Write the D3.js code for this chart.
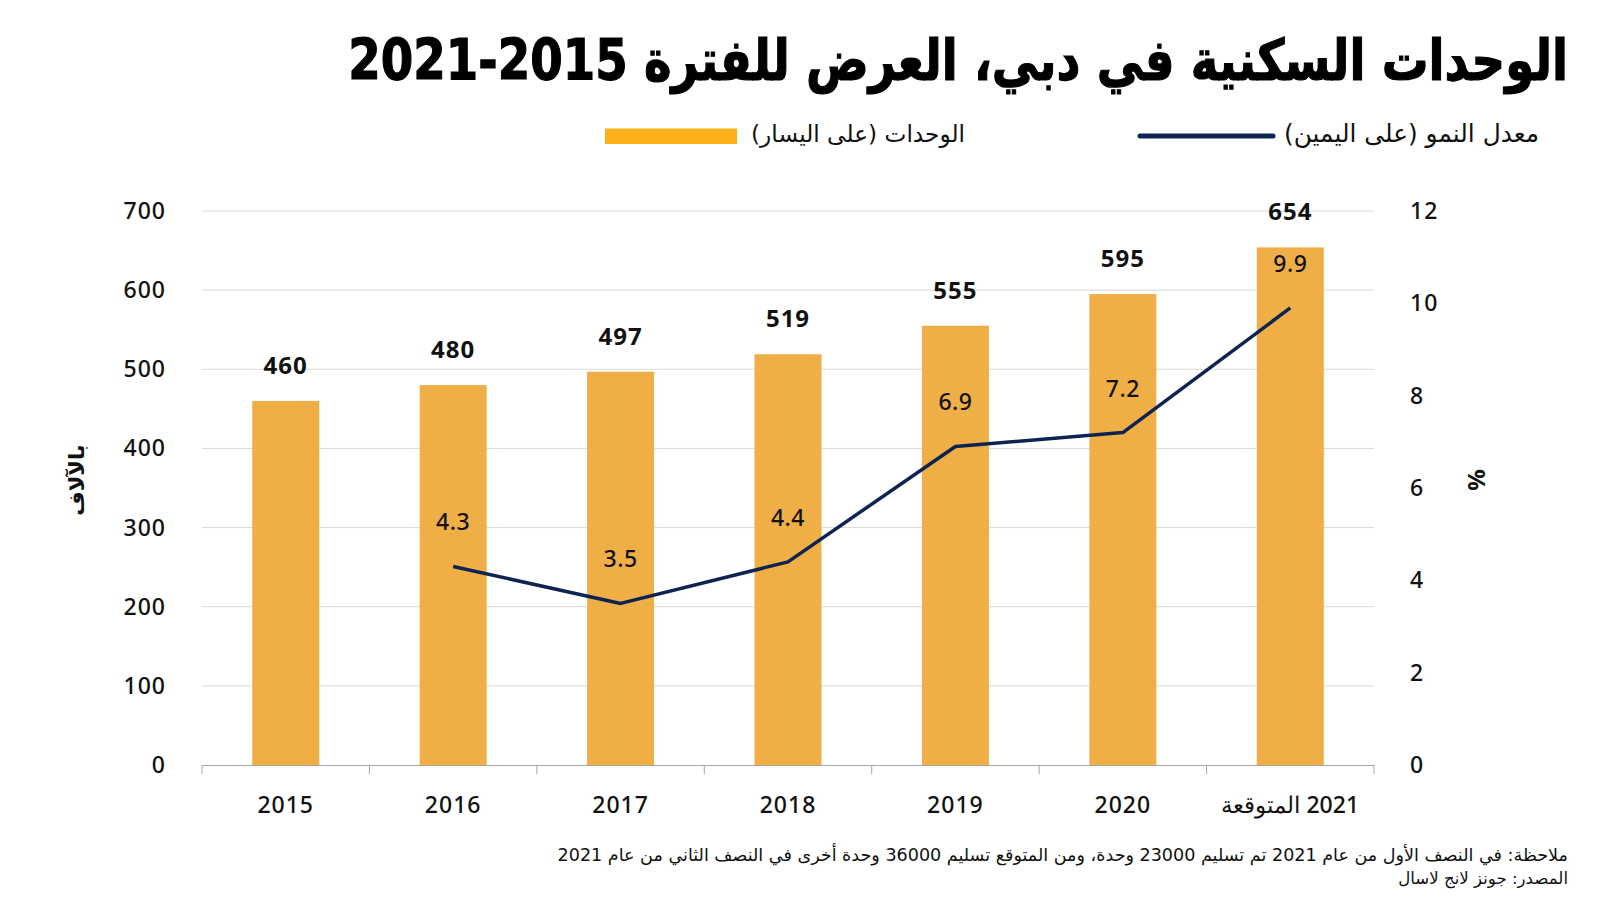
<!DOCTYPE html>
<html><head><meta charset="utf-8">
<script src="https://cdn.jsdelivr.net/npm/d3@7"></script>
<style>body{margin:0;background:#fff}svg{display:block}</style>
</head><body>
<svg id="c" width="1600" height="900"></svg>
<script>
const categories = ["2015","2016","2017","2018","2019","2020","2021 المتوقعة"];
const units = [460,480,497,519,555,595,654];
const growth = [null,4.3,3.5,4.4,6.9,7.2,9.9];
const leftTicks = [0,100,200,300,400,500,600,700];
const rightTicks = [0,2,4,6,8,10,12];
const titleText = "الوحدات السكنية في دبي، العرض للفترة 2015-2021";
const legendLine = "معدل النمو (على اليمين)";
const legendBar = "الوحدات (على اليسار)";
const leftTitle = "بالآلاف";
const rightTitle = "%";
const note1 = "ملاحظة: في النصف الأول من عام 2021 تم تسليم 23000 وحدة، ومن المتوقع تسليم 36000 وحدة أخرى في النصف الثاني من عام 2021";
const note2 = "المصدر: جونز لانج لاسال";

const svg = d3.select("#c");
const AR = "'DejaVu Sans', 'Noto Sans', sans-serif";
const NUM = "'Noto Sans', 'Open Sans', sans-serif";
const L = 202, R = 1374, T = 211, B = 765;

const x = d3.scaleBand().domain(categories).range([L,R]).paddingInner(0.6).paddingOuter(0.3);
const xb = d3.scaleBand().domain(categories).range([L,R]);
const yL = d3.scaleLinear().domain([0,700]).range([B,T]);
const yR = d3.scaleLinear().domain([0,12]).range([B,T]);

function fit(sel, w){
  const n = sel.node(); const fs = parseFloat(sel.attr("font-size"));
  const cur = n.getComputedTextLength();
  if (cur > 0) sel.attr("font-size", fs*w/cur);
}
function rtlText(xp, yp, txt, fs, weight){
  return svg.append("text").attr("x",xp).attr("y",yp).attr("text-anchor","start")
    .attr("direction","rtl").attr("font-family",AR).attr("font-weight",weight||"normal")
    .attr("font-size",fs).attr("fill","#111").text(txt);
}

// gridlines
svg.append("g").selectAll("line").data(leftTicks.slice(1)).join("line")
  .attr("x1",L).attr("x2",R).attr("y1",d=>yL(d)).attr("y2",d=>yL(d))
  .attr("stroke","#d9d9d9").attr("stroke-width",1);

// bars
svg.append("g").selectAll("rect").data(units).join("rect")
  .attr("x",(d,i)=>x(categories[i])).attr("width",x.bandwidth())
  .attr("y",d=>yL(d)).attr("height",d=>B-yL(d)).attr("fill","#F0AE46");

// x axis
const xa = svg.append("g").attr("transform",`translate(0,${B})`)
  .call(d3.axisBottom(xb).tickSize(0).tickFormat(""));
xa.select(".domain").attr("stroke","#a6a6a6");
const bounds = categories.map(c=>xb(c)).concat([R]);
svg.append("g").selectAll("line").data(bounds).join("line")
  .attr("x1",d=>d).attr("x2",d=>d).attr("y1",B).attr("y2",B+9).attr("stroke","#a6a6a6");
svg.append("g").selectAll("text").data(categories).join("text")
  .attr("x",d=>xb(d)+xb.bandwidth()/2).attr("y",813).attr("text-anchor","middle")
  .attr("font-family",NUM).attr("font-size",23).attr("font-weight",500).attr("fill","#111")
  .attr("letter-spacing",1).attr("direction","rtl")
  .text(d=>d);

// left ticks
svg.append("g").selectAll("text").data(leftTicks).join("text")
  .attr("x",166).attr("y",d=>yL(d)+8).attr("text-anchor","end")
  .attr("font-family",NUM).attr("font-size",23).attr("font-weight",500).attr("letter-spacing",1)
  .attr("fill","#111").text(d=>d);
// right ticks
svg.append("g").selectAll("text").data(rightTicks).join("text")
  .attr("x",1410).attr("y",d=>yR(d)+8).attr("text-anchor","start")
  .attr("font-family",NUM).attr("font-size",23).attr("font-weight",500).attr("letter-spacing",1)
  .attr("fill","#111").text(d=>d);

// axis titles
svg.append("text").attr("transform","translate(77,480) rotate(-90)").attr("text-anchor","middle")
  .attr("dominant-baseline","central").attr("font-family",AR).attr("font-weight","bold")
  .attr("font-size",21).attr("fill","#111").text(leftTitle);
svg.append("text").attr("transform","translate(1475,480) rotate(-90)").attr("text-anchor","middle")
  .attr("dominant-baseline","central").attr("font-family",NUM).attr("font-weight","bold")
  .attr("font-size",24).attr("fill","#111").text(rightTitle);

// bar labels
svg.append("g").selectAll("text").data(units).join("text")
  .attr("x",(d,i)=>xb(categories[i])+xb.bandwidth()/2).attr("y",d=>yL(d)-36+9)
  .attr("text-anchor","middle").attr("font-family",NUM).attr("font-weight","bold")
  .attr("font-size",24).attr("letter-spacing",1).attr("fill","#111").text(d=>d);

// line
const pts = growth.map((g,i)=>({g,c:categories[i]})).filter(d=>d.g!=null);
const line = d3.line().x(d=>xb(d.c)+xb.bandwidth()/2).y(d=>yR(d.g));
svg.append("path").datum(pts).attr("d",line).attr("fill","none")
  .attr("stroke","#0d2452").attr("stroke-width",3.5).attr("stroke-linejoin","round");
svg.append("g").selectAll("text").data(pts).join("text")
  .attr("x",d=>xb(d.c)+xb.bandwidth()/2).attr("y",d=>yR(d.g)-44+8)
  .attr("text-anchor","middle").attr("font-family",NUM).attr("font-weight",500)
  .attr("font-size",23).attr("letter-spacing",0.5).attr("fill","#111").text(d=>d.g.toFixed(1));

// title
const t = svg.append("text").attr("transform","translate(1568,80) scale(1,1.22)")
  .attr("x",0).attr("y",0).attr("text-anchor","start").attr("direction","rtl")
  .attr("font-family",AR).attr("font-weight","bold").attr("font-size",50)
  .attr("fill","#000").attr("stroke","#000").attr("stroke-width",1).text(titleText);
fit(t,1220);

// legend
svg.append("line").attr("x1",1140).attr("x2",1273).attr("y1",136).attr("y2",136)
  .attr("stroke","#0d2452").attr("stroke-width",5).attr("stroke-linecap","round");
const l1 = rtlText(1539, 142, legendLine, 21);
fit(l1,255);
svg.append("rect").attr("x",605).attr("y",128.5).attr("width",132).attr("height",15.5).attr("fill","#FCAF17");
const l2 = rtlText(965, 142, legendBar, 21);
fit(l2,214);

// notes
const n1 = rtlText(1568, 861, note1, 16);
fit(n1,1011);
const n2 = rtlText(1568, 884, note2, 16);
fit(n2,170);
</script>
</body></html>
